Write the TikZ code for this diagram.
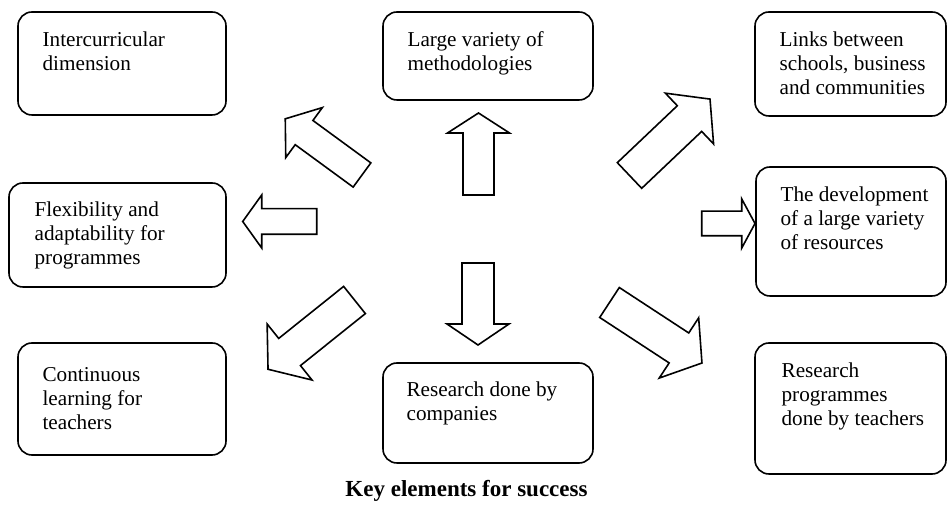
\documentclass[tikz,border=0pt]{standalone}
\usepackage{fontspec}
\setmainfont{Liberation Serif}
\usepackage{tikz}
\usetikzlibrary{fit}

\newcommand{\bigarrow}[6]{%
	\begin{scope}[shift={#1}, rotate=#2]
	\draw[blockarrow] (0,-#5) -- (#3,-#5) -- (#3,-#6) -- (#3+#4,0) -- (#3,#6) -- (#3,#5) -- (0,#5) -- cycle;
	\end{scope}}

\begin{document}
\begin{tikzpicture}[x=0.5pt, y=-0.5pt,
	box/.style={draw, line width=0.8pt, rounded corners=7pt, inner sep=0pt},
	txt/.style={anchor=base west, align=left, inner sep=0pt, font=\fontsize{10.6}{12.15}\selectfont},
	blockarrow/.style={draw, line width=0.8pt, line join=miter, fill=white}]
	\useasboundingbox (0,0) rectangle (947,506);
	% boxes
	\node[box, fit={(18,12) (226,115)}] (intercur) {};
	\node[box, fit={(383,12) (593,100)}] (methods) {};
	\node[box, fit={(755,12) (946,116)}] (links) {};
	\node[box, fit={(9,183) (226,287)}] (flex) {};
	\node[box, fit={(756,167) (946,296)}] (resources) {};
	\node[box, fit={(18,343) (226,455)}] (learning) {};
	\node[box, fit={(383,363) (593,463)}] (companies) {};
	\node[box, fit={(755,343) (946,474)}] (teachers) {};
	% texts (base anchor sits on the last line)
	\node[txt] (intercur-t) at ([shift={(25,59.3)}]intercur.north west) {Intercurricular\\dimension};
	\node[txt] (methods-t) at ([shift={(25,59.3)}]methods.north west) {Large variety of\\methodologies};
	\node[txt] (links-t) at ([shift={(25,83.6)}]links.north west) {Links between\\schools, business\\and communities};
	\node[txt] (flex-t) at ([shift={(26,82.6)}]flex.north west) {Flexibility and\\adaptability for\\programmes};
	\node[txt] (resources-t) at ([shift={(25,83.6)}]resources.north west) {The development\\of a large variety\\of resources};
	\node[txt] (learning-t) at ([shift={(25,87.6)}]learning.north west) {Continuous\\learning for\\teachers};
	\node[txt] (companies-t) at ([shift={(24,58.3)}]companies.north west) {Research done by\\companies};
	\node[txt] (teachers-t) at ([shift={(27,83.6)}]teachers.north west) {Research\\programmes\\done by teachers};
	% block arrows
	\bigarrow{(362,175)}{143.8}{71.8}{23.3}{15}{31}
	\bigarrow{(478.5,195)}{90}{62}{20}{15.5}{31}
	\bigarrow{(629.5,175.5)}{43.5}{82.7}{28.3}{17.7}{35}
	\bigarrow{(316.7,221.5)}{180}{55}{19}{12.8}{26.5}
	\bigarrow{(701.7,223.5)}{0}{40}{13.3}{12.3}{24.6}
	\bigarrow{(354.5,300)}{218.7}{83.2}{27.6}{17.4}{35.9}
	\bigarrow{(478,263)}{270}{61}{21}{16}{31}
	\bigarrow{(609.5,302.5)}{-33.2}{83}{27.5}{17.9}{36}
	% title
	\node[anchor=base, inner sep=0pt, font=\fontsize{11.5}{13}\selectfont\bfseries] (title) at (466.5,497) {Key elements for success};
\end{tikzpicture}
\end{document}
